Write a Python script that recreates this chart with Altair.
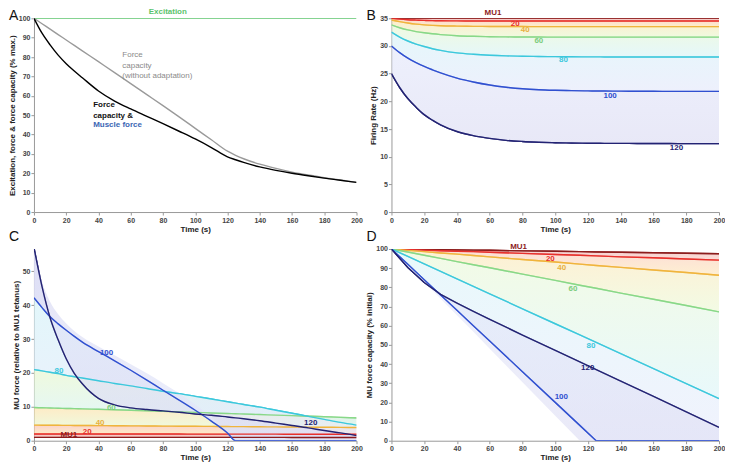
import altair as alt
import pandas as pd

FONT = "Liberation Sans"

# ---------------- shared time grid (s) ----------------
T = [0, 5, 10, 15, 20, 25, 30, 40, 50, 60, 70, 80, 90, 100, 110, 120, 125, 130,
     140, 150, 160, 170, 180, 190, 200]

# ---------------- Panel A ----------------
A_exc_t = [0, 200]
A_exc = [100, 100]
A_force = [100, 92.3, 86.3, 81.0, 76.6, 72.8, 69.3, 62.5, 57.3, 53.2, 49.4, 45.6,
           41.7, 37.7, 33.3, 28.5, 27.0, 25.6, 23.3, 21.5, 20.0, 18.7, 17.5, 16.4, 15.3]
A_noadapt = [100, 97.2, 94.4, 91.6, 88.8, 86.0, 83.2, 77.6, 72.0, 66.3, 60.6, 54.9,
             49.1, 43.2, 37.3, 31.4, 29.3, 27.5, 24.7, 22.5, 20.6, 19.1, 17.7, 16.5, 15.3]
A_text = ["Excitation", "Force", "capacity", "(without adaptation)",
          "Force", "capacity &", "Muscle force"]
A_text_t = [83, 54.8, 54.8, 54.8, 36.7, 36.7, 36.7]
A_text_v = [103.0, 80.8, 75.6, 70.4, 55.0, 49.8, 44.7]
A_text_c = ["#5cc46c", "#8a8a8a", "#8a8a8a", "#8a8a8a", "#111111", "#111111", "#3a66b4"]
A_text_w = ["bold", "normal", "normal", "normal", "bold", "bold", "bold"]

# ---------------- Panel B (firing rate, Hz) ----------------
B_MU1 = [35, 35, 35, 35, 35, 35, 35, 35, 35, 35, 35, 35, 35, 35, 35, 35, 35, 35, 35,
         35, 35, 35, 35, 35, 35]
B_MU20 = [35.0, 34.85, 34.75, 34.68, 34.62, 34.58, 34.56, 34.53, 34.52, 34.51, 34.5,
          34.5, 34.5, 34.5, 34.5, 34.5, 34.5, 34.5, 34.5, 34.5, 34.5, 34.5, 34.5, 34.5, 34.5]
B_MU40 = [34.7, 34.4, 34.15, 33.95, 33.82, 33.73, 33.66, 33.59, 33.55, 33.53, 33.52,
          33.51, 33.5, 33.5, 33.5, 33.5, 33.5, 33.5, 33.5, 33.5, 33.5, 33.5, 33.5, 33.5, 33.5]
B_MU60 = [33.8, 33.3, 32.9, 32.6, 32.38, 32.2, 32.06, 31.86, 31.75, 31.68, 31.64,
          31.62, 31.61, 31.6, 31.6, 31.6, 31.6, 31.6, 31.6, 31.6, 31.6, 31.6, 31.6, 31.6, 31.6]
B_MU80 = [32.5, 31.6, 30.9, 30.35, 29.9, 29.5, 29.2, 28.75, 28.5, 28.33, 28.22, 28.15,
          28.1, 28.07, 28.05, 28.03, 28.03, 28.02, 28.02, 28.01, 28.0, 28.0, 28.0, 28.0, 28.0]
B_MU100 = [30.0, 28.8, 27.8, 27.0, 26.3, 25.7, 25.15, 24.2, 23.5, 22.95, 22.55, 22.27,
           22.1, 22.0, 21.93, 21.88, 21.87, 21.86, 21.84, 21.82, 21.81, 21.8, 21.8, 21.8, 21.8]
B_MU120 = [25.0, 22.5, 20.5, 18.95, 17.6, 16.6, 15.75, 14.55, 13.8, 13.3, 12.95, 12.75,
           12.62, 12.53, 12.47, 12.43, 12.42, 12.41, 12.4, 12.39, 12.38, 12.37, 12.36, 12.35, 12.35]
B_lab = ["MU1", "20", "40", "60", "80", "100", "120"]
B_lab_t = [62, 75.6, 81.7, 90, 105, 133.5, 174]
B_lab_v = [35.9, 33.9, 32.8, 30.9, 27.4, 21.0, 11.6]

# ---------------- Panel C (MU force, rel. MU1 tetanus) ----------------
C_MU1 = [1.0, 1.0, 1.0, 1.0, 1.0, 1.0, 1.0, 0.99, 0.99, 0.99, 0.99, 0.99, 0.99, 0.98,
         0.98, 0.98, 0.98, 0.98, 0.98, 0.98, 0.97, 0.97, 0.97, 0.97, 0.97]
C_MU20 = [2.0, 2.0, 2.0, 2.0, 2.0, 1.99, 1.99, 1.98, 1.98, 1.97, 1.97, 1.96, 1.96, 1.95,
          1.95, 1.94, 1.94, 1.94, 1.93, 1.93, 1.92, 1.92, 1.91, 1.91, 1.9]
C_MU40 = [4.6, 4.58, 4.57, 4.55, 4.53, 4.51, 4.5, 4.46, 4.43, 4.39, 4.36, 4.32, 4.29,
          4.25, 4.22, 4.18, 4.16, 4.15, 4.11, 4.08, 4.04, 4.01, 3.97, 3.94, 3.9]
C_MU60 = [9.8, 9.72, 9.65, 9.58, 9.52, 9.46, 9.4, 9.27, 9.13, 8.98, 8.83, 8.68, 8.52,
          8.36, 8.2, 8.04, 7.96, 7.88, 7.72, 7.56, 7.4, 7.24, 7.07, 6.9, 6.72]
C_MU80 = [21.0, 20.6, 20.2, 19.8, 19.3, 18.9, 18.5, 17.7, 16.9, 16.2, 15.4, 14.6, 13.9,
          13.1, 12.3, 11.5, 11.1, 10.7, 9.9, 9.0, 8.1, 7.2, 6.3, 5.4, 4.6]
C_MU100 = [42.2, 39.3, 36.6, 34.5, 32.6, 30.8, 29.1, 26.3, 23.6, 20.8, 17.9, 14.9, 12.0,
           9.0, 5.8, 2.3, 0, 0, 0, 0, 0, 0, 0, 0, 0]
C_MU120 = [57, 45.5, 36.3, 29.8, 24.2, 19.9, 16.8, 12.5, 10.6, 9.7, 9.2, 8.8, 8.4, 7.9,
           7.5, 7.0, 6.75, 6.5, 5.9, 5.2, 4.5, 3.8, 3.0, 2.3, 1.5]
C_fan_top = [57, 47, 41, 37.3, 34.6, 32.4, 30.6, 27.8, 25.2, 22.6, 19.9, 17.0, 14.0,
             10.7, 7.0, 2.5, 0, 0, 0, 0, 0, 0, 0, 0, 0]
C_lab = ["MU1", "20", "40", "60", "80", "100", "120"]
C_lab_t = [21.6, 33, 41, 48, 15.5, 45, 171.6]
C_lab_v = [1.6, 2.6, 5.1, 9.7, 20.7, 25.9, 5.1]

# ---------------- Panel D (MU force capacity, % initial) ----------------
TD = [0, 10, 20, 30, 40, 50, 60, 80, 100, 115, 125, 140, 160, 180, 200]
D_MU1 = [100, 99.9, 99.8, 99.6, 99.5, 99.4, 99.3, 99.0, 98.8, 98.6, 98.4, 98.3, 98.0, 97.8, 97.5]
D_MU20 = [100, 99.7, 99.4, 99.1, 98.8, 98.6, 98.3, 97.7, 97.1, 96.7, 96.4, 95.9, 95.4, 94.8, 94.2]
D_MU40 = [100, 99.3, 98.6, 97.9, 97.3, 96.6, 95.9, 94.5, 93.2, 92.1, 91.4, 90.4, 89.0, 87.7, 86.3]
D_MU60 = [100, 98.4, 96.7, 95.1, 93.4, 91.8, 90.2, 86.9, 83.6, 81.1, 79.5, 77.0, 73.8, 70.5, 67.2]
D_MU80 = [100, 96.1, 92.2, 88.3, 84.4, 80.5, 76.6, 68.8, 61.0, 55.2, 51.3, 45.4, 37.6, 29.8, 22.0]
D_MU100 = [100, 92, 84, 76, 68, 60, 52, 36, 20, 8, 0, 0, 0, 0, 0]
D_MU120 = [100, 90.3, 82.5, 76.3, 71.8, 67.5, 63.3, 55.1, 47.1, 41.1, 37.1, 31.1, 23.1, 15.1, 7.0]
D_fan_low = [100, 91.3, 82.8, 74.0, 65.5, 56.8, 48.0, 30.5, 13.0, 0, 0, 0, 0, 0, 0]
D_lab = ["MU1", "20", "40", "60", "80", "100", "120"]
D_lab_t = [77.6, 97, 104, 110.8, 121.8, 103.7, 119.8]
D_lab_v = [101.0, 94.9, 90.3, 79.3, 49.5, 22.7, 38.0]

KEY_COLORS = ["#8c1c1c", "#e8302c", "#f0b43c", "#88d888", "#3cc8dc", "#3050d0", "#232373"]
TINT = {"MU1": "#eaa8a8", "MU20": "#f9c0b4", "MU40": "#fde3ae", "MU60": "#e8f7cf",
        "MU80": "#d6f3f8", "MU100": "#e4e8fb", "MU120": "#dcdcf3", "fan": "#d8d8f2"}
LAB_COLORS = {"MU1": "#8c1c1c", "20": "#e8302c", "40": "#e8b040", "60": "#7ccc7c",
              "80": "#3cc8dc", "100": "#3050d0", "120": "#232373"}

XVALS = [0, 20, 40, 60, 80, 100, 120, 140, 160, 180, 200]

W_LEFT, W_RIGHT, H_TOP, H_BOT = 323, 328, 194, 192


def xenc():
    return alt.X("t:Q", scale=alt.Scale(domain=[0, 200], nice=False),
                 axis=alt.Axis(values=XVALS, title="Time (s)", labelFlush=False,
                               labelOverlap=False))


class YSpec:
    def __init__(self, dom, title, vals):
        self.dom, self.title, self.vals = dom, title, vals

    def enc(self, field):
        return alt.Y(field, scale=alt.Scale(domain=self.dom, nice=False), stack=None,
                     axis=alt.Axis(values=self.vals, title=self.title, labelOverlap=False))


def lines_layer(t, curves, colors, widths, ys, interp):
    rows = []
    for name, vals in curves.items():
        tt = t[name] if isinstance(t, dict) else t
        for a, b in zip(tt, vals):
            rows.append({"t": a, "v": b, "curve": name})
    df = pd.DataFrame(rows)
    names = list(curves.keys())
    return alt.Chart(df).mark_line(clip=True, interpolate=interp).encode(
        x=xenc(),
        y=ys.enc("v:Q"),
        color=alt.Color("curve:N", scale=alt.Scale(domain=names, range=colors), legend=None),
        strokeWidth=alt.StrokeWidth("curve:N", scale=alt.Scale(domain=names, range=widths),
                                    legend=None),
        order=alt.Order("t:Q"),
    )


def band_layers(t, pairs, curves, ys, opacity, interp):
    out = []
    for upper, lower in pairs:
        df = pd.DataFrame({"t": t, "v": curves[lower], "hi": curves[upper]})
        grad = alt.Gradient(gradient="linear", x1=0, x2=0, y1=0, y2=1,
                            stops=[alt.GradientStop(color=TINT[upper], offset=0),
                                   alt.GradientStop(color=TINT[lower], offset=1)])
        out.append(alt.Chart(df).mark_area(clip=True, opacity=opacity, color=grad,
                                           interpolate=interp).encode(
            x=xenc(), y=ys.enc("v:Q"), y2="hi:Q"))
    return out


def labels_layer(texts, ts, vs, colors, ys, weights=None, align="center", size=8):
    df = pd.DataFrame({"t": ts, "v": vs, "txt": texts, "col": colors,
                       "w": weights if weights else ["bold"] * len(texts)})
    layers = []
    for w in sorted(set(df["w"])):
        sub = df[df["w"] == w]
        layers.append(alt.Chart(sub).mark_text(font=FONT, fontSize=size, fontWeight=w,
                                               align=align, baseline="middle").encode(
            x=xenc(), y=ys.enc("v:Q"), text="txt:N",
            color=alt.Color("col:N", scale=None)))
    return layers


def letter(txt, yoff):
    return alt.Chart(pd.DataFrame({"l": [txt]})).mark_text(
        font=FONT, fontSize=14, align="left", baseline="alphabetic", color="#111").encode(
        x=alt.value(-25), y=alt.value(yoff), text="l:N")


def panel(layers, w, h):
    return alt.layer(*layers).resolve_scale(color="independent").properties(width=w, height=h)


PAIRS = [("MU1", "MU20"), ("MU20", "MU40"), ("MU40", "MU60"),
         ("MU60", "MU80"), ("MU80", "MU100"), ("MU100", "MU120")]
WID = [1.3, 1.2, 1.2, 1.2, 1.2, 1.3, 1.3]

# ---- Panel A ----
yA = YSpec([0, 100], "Excitation, force & force capacity (% max.)", list(range(0, 101, 10)))
A_lines = lines_layer({"exc": A_exc_t, "noad": T, "force": T},
                      {"exc": A_exc, "noad": A_noadapt, "force": A_force},
                      ["#5cc46c", "#9a9a9a", "#000000"], [1.4, 1.4, 2.0], yA, "monotone")
A_lab_center = labels_layer(A_text[:1], A_text_t[:1], A_text_v[:1], A_text_c[:1], yA,
                            A_text_w[:1])
A_lab_left = labels_layer(A_text[1:], A_text_t[1:], A_text_v[1:], A_text_c[1:], yA,
                          A_text_w[1:], align="left")
panelA = panel([A_lines, *A_lab_center, *A_lab_left, letter("A", 2)], W_LEFT, H_TOP)

# ---- Panel B ----
yB = YSpec([0, 35], "Firing Rate (Hz)", list(range(0, 36, 5)))
B_curves = {"MU1": B_MU1, "MU20": B_MU20, "MU40": B_MU40, "MU60": B_MU60,
            "MU80": B_MU80, "MU100": B_MU100, "MU120": B_MU120}
B_lines = lines_layer(T, B_curves, KEY_COLORS, WID, yB, "monotone")
B_labs = labels_layer(B_lab, B_lab_t, B_lab_v, [LAB_COLORS[k] for k in B_lab], yB)
panelB = panel([B_lines, *band_layers(T, PAIRS, B_curves, yB, 0.65, "monotone"), B_lines,
                *B_labs, letter("B", 2)], W_RIGHT, H_TOP)

# ---- Panel C ----
yC = YSpec([0, 56.6], "MU force (relative to MU1 tetanus)", [0, 10, 20, 30, 40, 50])
C_curves = {"MU1": C_MU1, "MU20": C_MU20, "MU40": C_MU40, "MU60": C_MU60,
            "MU80": C_MU80, "MU100": C_MU100, "MU120": C_MU120}
C_all = dict(C_curves, fan=C_fan_top)
C_lines = lines_layer(T, C_curves, KEY_COLORS, WID, yC, "monotone")
C_labs = labels_layer(C_lab, C_lab_t, C_lab_v, [LAB_COLORS[k] for k in C_lab], yC)
panelC = panel([C_lines, *band_layers(T, PAIRS + [("fan", "MU100")], C_all, yC, 0.7, "monotone"),
                C_lines, *C_labs, letter("C", -8)], W_LEFT, H_BOT)

# ---- Panel D ----
yD = YSpec([0, 100], "MU force capacity (% initial)", list(range(0, 101, 10)))
D_curves = {"MU1": D_MU1, "MU20": D_MU20, "MU40": D_MU40, "MU60": D_MU60,
            "MU80": D_MU80, "MU100": D_MU100, "MU120": D_MU120}
D_all = dict(D_curves, fan=D_fan_low)
D_lines = lines_layer(TD, D_curves, KEY_COLORS, WID, yD, "linear")
D_labs = labels_layer(D_lab, D_lab_t, D_lab_v, [LAB_COLORS[k] for k in D_lab], yD)
panelD = panel([D_lines, *band_layers(TD, PAIRS + [("MU100", "fan")], D_all, yD, 0.55, "linear"),
                D_lines, *D_labs, letter("D", -8)], W_RIGHT, H_BOT)

chart = alt.concat(panelA, panelB, panelC, panelD, columns=2,
                   spacing={"row": 37, "column": 35}, bounds="flush").properties(
    padding=0
).configure_view(stroke=None).configure_axis(
    labelFont=FONT, labelFontSize=7, labelFontWeight="bold", labelColor="#444",
    titleFont=FONT, titleFontSize=8, titleFontWeight="bold", titleColor="#222",
    domainColor="#999", tickColor="#999", tickSize=3, grid=False,
    labelPadding=1, titlePadding=2, labelOverlap=False,
)

chart.save("out.html", embed_options={"renderer": "svg", "actions": False})
